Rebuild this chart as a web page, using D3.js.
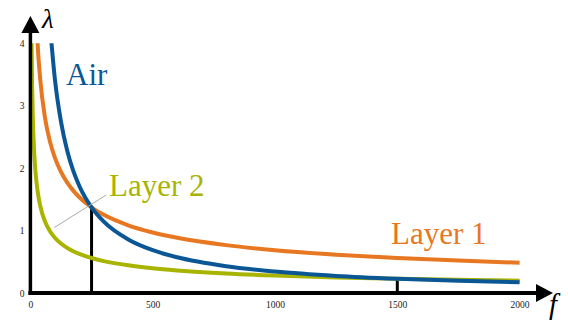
<!DOCTYPE html>
<html>
<head>
<meta charset="utf-8">
<script src="https://cdn.jsdelivr.net/npm/d3@7"></script>
<style>
  html, body { margin: 0; padding: 0; background: #fff; }
  svg { display: block; }
</style>
</head>
<body>
<svg id="chart" width="568" height="322"></svg>
<script>
// Wavelength λ against frequency f for air and two layers
const freq   = [2, 3, 4, 5, 7, 10, 15, 20, 30, 40, 60, 80, 100, 125, 150, 175, 200, 250, 300, 400, 500, 600, 800, 1000, 1250, 1500, 1750, 2000];
const air    = [null, null, null, null, null, null, null, null, null, null, null, 4.288, 3.430, 2.744, 2.287, 1.960, 1.715, 1.372, 1.143, 0.858, 0.686, 0.572, 0.429, 0.343, 0.274, 0.229, 0.196, 0.172];
const layer1 = [null, null, null, null, null, null, null, 4.850, 3.960, 3.430, 2.800, 2.425, 2.169, 1.940, 1.771, 1.640, 1.534, 1.372, 1.252, 1.085, 0.970, 0.885, 0.767, 0.686, 0.614, 0.560, 0.519, 0.485];
const layer2 = [6.262, 5.113, 4.428, 3.961, 3.347, 2.800, 2.287, 1.980, 1.617, 1.400, 1.143, 0.990, 0.886, 0.792, 0.723, 0.669, 0.626, 0.560, 0.511, 0.443, 0.396, 0.362, 0.313, 0.280, 0.250, 0.229, 0.212, 0.198];
const xTicks = [0, 500, 1000, 1500, 2000];
const yTicks = [0, 1, 2, 3, 4];
// Frequencies where each layer meets the air curve
const dropFreqs = [250, 1500];

const colors = { air: "#0b5796", layer1: "#e87722", layer2: "#a8b400" };
const SERIF = "Liberation Serif";

const svg = d3.select("#chart");
const x = d3.scaleLinear().domain([0, 2000]).range([30.4, 519.6]);
const y = d3.scaleLinear().domain([0, 4]).range([293, 43.3]);

// clip curves to the λ range
svg.append("defs").append("clipPath").attr("id", "plotclip")
  .append("rect").attr("x", x(0)).attr("y", y(4)).attr("width", 600).attr("height", y(0) - y(4) + 20);

// tick labels
const xAxis = d3.axisBottom(x).tickValues(xTicks).tickSize(0).tickPadding(0).tickFormat(d3.format("d"));
const gx = svg.append("g").attr("transform", `translate(0,${y(0) + 8})`).call(xAxis);
gx.select(".domain").remove();
gx.selectAll("text").attr("dy", "0.71em");

const yAxis = d3.axisLeft(y).tickValues(yTicks).tickSize(0).tickPadding(0).tickFormat(d3.format("d"));
const gy = svg.append("g").attr("transform", `translate(${x(0) - 6},0)`).call(yAxis);
gy.select(".domain").remove();
[gx, gy].forEach(g => g.attr("font-family", SERIF).attr("font-size", 9.5));
svg.selectAll(".tick text").attr("fill", "#222");

// drop lines from crossing points to the f axis
const airAt = f => air[freq.indexOf(f)];
svg.selectAll(".drop").data(dropFreqs).join("line")
  .attr("class", "drop")
  .attr("x1", d => x(d)).attr("x2", d => x(d))
  .attr("y1", y(0)).attr("y2", d => y(airAt(d)))
  .attr("stroke", "#000").attr("stroke-width", 3);

// curves
const series = [
  { key: "layer2", values: layer2 },
  { key: "layer1", values: layer1 },
  { key: "air", values: air }
];
const line = d3.line()
  .defined(d => d[1] != null)
  .x(d => x(d[0])).y(d => y(d[1]))
  .curve(d3.curveMonotoneX);

svg.append("g").attr("clip-path", "url(#plotclip)")
  .selectAll("path").data(series).join("path")
  .attr("d", s => line(freq.map((f, i) => [f, s.values[i]])))
  .attr("fill", "none")
  .attr("stroke", s => colors[s.key])
  .attr("stroke-width", 4)
  .attr("stroke-linecap", "butt");

// leader from the Layer 2 label through the first crossing
const lx1 = x(98), ly1 = y(1.05), lx2 = x(310), ly2 = y(1.57);
svg.append("line")
  .attr("x1", lx1).attr("y1", ly1).attr("x2", lx2).attr("y2", ly2)
  .attr("stroke", "#aaa").attr("stroke-width", 1);

// axes with arrow heads
svg.append("line").attr("x1", x(0) - 2).attr("x2", 538).attr("y1", y(0)).attr("y2", y(0))
  .attr("stroke", "#000").attr("stroke-width", 4);
svg.append("path").attr("d", `M536,${y(0) - 9} L553,${y(0)} L536,${y(0) + 9} Z`).attr("fill", "#000");

svg.append("line").attr("x1", x(0)).attr("x2", x(0)).attr("y1", y(0) + 2).attr("y2", 31)
  .attr("stroke", "#000").attr("stroke-width", 3.5);
svg.append("path").attr("d", `M${x(0) - 9},33 L${x(0)},16 L${x(0) + 9},33 Z`).attr("fill", "#000");

// axis symbols
svg.append("text").attr("x", 42).attr("y", 28)
  .attr("font-family", SERIF).attr("font-style", "italic").attr("font-size", 27)
  .text("λ");
svg.append("text").attr("x", 549).attr("y", 314)
  .attr("font-family", SERIF).attr("font-style", "italic").attr("font-size", 29)
  .text("f");

// series labels
const labels = [
  { text: "Air", key: "air", x: 66, y: 85 },
  { text: "Layer 2", key: "layer2", x: 109, y: 196 },
  { text: "Layer 1", key: "layer1", x: 391, y: 244 }
];
svg.selectAll(".lbl").data(labels).join("text")
  .attr("class", "lbl")
  .attr("x", d => d.x).attr("y", d => d.y)
  .attr("font-family", SERIF).attr("font-size", 31)
  .attr("fill", d => colors[d.key])
  .text(d => d.text);
</script>
</body>
</html>
